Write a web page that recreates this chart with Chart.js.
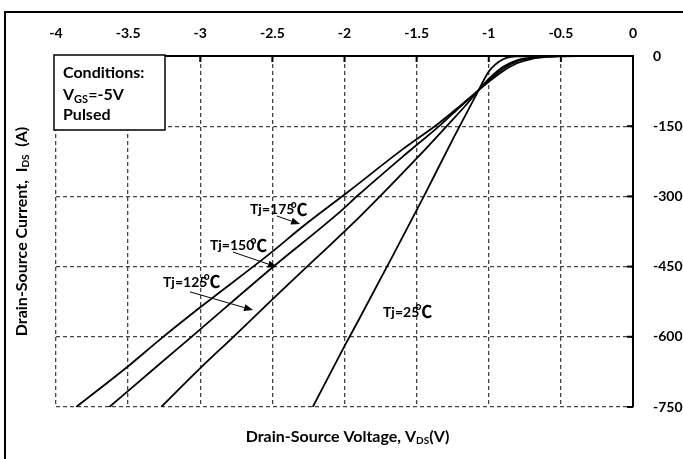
<!DOCTYPE html>
<html><head><meta charset="utf-8">
<script src="https://cdn.jsdelivr.net/npm/chart.js@4"></script>
<style>html,body{margin:0;padding:0;background:#fff;}canvas{display:block}</style>
</head><body>
<canvas id="c" width="683" height="459"></canvas>
<script>
// ---- tick labels ----
const xTickValues = [-4, -3.5, -3, -2.5, -2, -1.5, -1, -0.5, 0];
const xTickLabels = ['-4', '-3.5', '-3', '-2.5', '-2', '-1.5', '-1', '-0.5', '0'];
const yTickValues = [0, -150, -300, -450, -600, -750];
const yTickLabels = ['0', '-150', '-300', '-450', '-600', '-750'];

// ---- series (V_DS in V, I_DS in A) ----
const v25  = [-2.22, -2.0, -1.9, -1.7, -1.45, -1.246, -1.07, -1.0, -0.95, -0.9, -0.85, -0.8, -0.7, -0.5, -0.3];
const i25  = [-750, -620, -563, -447, -300, -176, -73, -33, -17, -7, -2, -0.5, 0, 0, 0];

const v125 = [-3.27, -3.0, -2.77, -2.5, -2.3, -1.89, -1.7, -1.5, -1.28, -1.15, -1.07, -1.0, -0.9, -0.8, -0.7, -0.6, -0.5, -0.3];
const i125 = [-750, -667, -600, -520, -462, -342, -283, -219, -146, -102, -73, -49, -23, -9, -3, -0.8, 0, 0];

const v150 = [-3.63, -3.3, -3.0, -2.5, -2.05, -1.9, -1.6, -1.33, -1.2, -1.07, -1.0, -0.9, -0.8, -0.7, -0.6, -0.5, -0.4, -0.2];
const i150 = [-750, -663, -584, -452, -338, -296, -216, -146, -109, -73, -52, -27, -11, -4, -1.2, -0.3, 0, 0];

const v175 = [-3.86, -3.5, -3.28, -3.0, -2.5, -2.3, -1.97, -1.6, -1.36, -1.2, -1.07, -1.0, -0.9, -0.8, -0.7, -0.6, -0.5, -0.35, -0.2];
const i175 = [-750, -663, -606, -537, -418, -367, -289, -200, -147, -107, -73, -55, -32, -15, -6, -2, -0.6, -0.1, 0];

const seriesNames = ['Tj=25℃', 'Tj=125℃', 'Tj=150℃', 'Tj=175℃'];

const FONT = 'Lato, "Open Sans", sans-serif';
const zip = (xs, ys) => xs.map((x, k) => ({x, y: ys[k]}));
const mk = (label, xs, ys) => ({
  label, data: zip(xs, ys), showLine: true, borderColor: '#000', borderWidth: 1.8,
  pointRadius: 0, fill: false, cubicInterpolationMode: 'monotone'
});

// annotation labels (text, position in data units, arrow from/to in data units)
const notes = [
  {t: 'Tj=175', at: [-2.655, -329], arrow: [[-2.468, -342], [-2.308, -359]]},
  {t: 'Tj=150', at: [-2.933, -404], arrow: [[-2.773, -419], [-2.468, -451]]},
  {t: 'Tj=125', at: [-3.258, -483], arrow: [[-3.071, -504], [-2.634, -543]]},
  {t: 'Tj=25',  at: [-1.733, -547], arrow: null}
];

function drawParts(ctx, parts, x, y, align) {
  let w = 0;
  parts.forEach(p => { ctx.font = p.font; p.w = ctx.measureText(p.t).width; w += p.w + (p.dx || 0); });
  let cx = align === 'center' ? x - w / 2 : x;
  parts.forEach(p => {
    ctx.font = p.font;
    ctx.fillText(p.t, cx + (p.dx || 0), y + (p.dy || 0));
    cx += p.w + (p.dx || 0);
  });
}

function arrow(ctx, x1, y1, x2, y2) {
  ctx.save();
  ctx.strokeStyle = '#000'; ctx.fillStyle = '#000'; ctx.lineWidth = 1;
  const a = Math.atan2(y2 - y1, x2 - x1), L = 9, W = 3.5;
  const bx = x2 - L * Math.cos(a), by = y2 - L * Math.sin(a);
  ctx.beginPath(); ctx.moveTo(x1, y1); ctx.lineTo(bx, by); ctx.stroke();
  ctx.beginPath();
  ctx.moveTo(x2, y2);
  ctx.lineTo(bx + W * Math.sin(a), by - W * Math.cos(a));
  ctx.lineTo(bx - W * Math.sin(a), by + W * Math.cos(a));
  ctx.closePath(); ctx.fill();
  ctx.restore();
}

const decor = {
  id: 'decor',
  afterDatasetsDraw(chart) {
    const {ctx, chartArea: ca, scales: {x, y}} = chart;
    ctx.save();
    // inward tick marks
    ctx.strokeStyle = '#000'; ctx.lineWidth = 2;
    xTickValues.forEach(v => {
      const px = x.getPixelForValue(v);
      ctx.beginPath(); ctx.moveTo(px, ca.top); ctx.lineTo(px, ca.top + 6); ctx.stroke();
    });
    yTickValues.forEach(v => {
      const py = y.getPixelForValue(v);
      ctx.beginPath(); ctx.moveTo(ca.right, py); ctx.lineTo(ca.right - 6, py); ctx.stroke();
    });
    // conditions box
    const bx = ca.left - 2, by = ca.top - 1, bw = 111, bh = 75;
    ctx.fillStyle = '#fff'; ctx.fillRect(bx, by, bw, bh);
    ctx.lineWidth = 1.5; ctx.strokeStyle = '#000'; ctx.strokeRect(bx, by, bw, bh);
    ctx.fillStyle = '#000'; ctx.textBaseline = 'middle';
    const f = 'bold 16px ' + FONT, fs = 'bold 11px ' + FONT;
    drawParts(ctx, [{t: 'Conditions:', font: f}], bx + 9, by + 18, 'left');
    drawParts(ctx, [{t: 'V', font: f}, {t: 'GS', font: fs, dy: 4}, {t: '=-5V', font: f}], bx + 9, by + 40, 'left');
    drawParts(ctx, [{t: 'Pulsed', font: f}], bx + 9, by + 60, 'left');
    ctx.restore();
  },
  afterDraw(chart) {
    const {ctx, chartArea: ca, scales: {x, y}} = chart;
    ctx.save();
    // outer frame (top and left edges visible)
    ctx.strokeStyle = '#000'; ctx.lineWidth = 2;
    ctx.beginPath(); ctx.moveTo(5, 470); ctx.lineTo(5, 12); ctx.lineTo(700, 12); ctx.stroke();
    // annotations
    ctx.fillStyle = '#000'; ctx.textBaseline = 'middle';
    notes.forEach(n => {
      const px = x.getPixelForValue(n.at[0]), py = y.getPixelForValue(n.at[1]);
      drawParts(ctx, [{t: n.t, font: 'bold 14px ' + FONT},
                      {t: '℃', font: 'bold 17px "Noto Sans CJK SC", ' + FONT, dx: -4, dy: 0}], px, py, 'left');
      if (n.arrow) {
        arrow(ctx, x.getPixelForValue(n.arrow[0][0]), y.getPixelForValue(n.arrow[0][1]),
                   x.getPixelForValue(n.arrow[1][0]), y.getPixelForValue(n.arrow[1][1]));
      }
    });
    // axis titles
    const tf = 'bold 16px ' + FONT, ts = 'bold 10px ' + FONT;
    drawParts(ctx, [{t: 'Drain-Source Voltage, V', font: tf}, {t: 'DS', font: ts, dy: 4}, {t: '(V)', font: tf}],
              (ca.left + ca.right) / 2 + 3, 437, 'center');
    ctx.translate(22, (ca.top + ca.bottom) / 2);
    ctx.rotate(-Math.PI / 2);
    drawParts(ctx, [{t: 'Drain-Source Current,  I', font: tf}, {t: 'DS', font: ts, dy: 4}, {t: '  (A)', font: tf}],
              0, 0, 'center');
    ctx.restore();
  }
};

const gridOpts = {color: '#444', lineWidth: 1.3, drawTicks: false};
new Chart(document.getElementById('c').getContext('2d'), {
  type: 'scatter',
  data: {datasets: [mk(seriesNames[0], v25, i25), mk(seriesNames[1], v125, i125),
                    mk(seriesNames[2], v150, i150), mk(seriesNames[3], v175, i175)]},
  options: {
    responsive: false, animation: false, devicePixelRatio: 1,
    layout: {padding: {left: 56, bottom: 52, top: 0, right: 0}},
    plugins: {legend: {display: false}, tooltip: {enabled: false}},
    scales: {
      x: {
        type: 'linear', position: 'top', min: -4, max: 0,
        afterBuildTicks: s => { s.ticks = xTickValues.map(v => ({value: v})); },
        afterFit: s => { s.height = 56; },
        ticks: {autoSkip: false, maxRotation: 0, padding: 14, color: '#000',
                font: {family: FONT, size: 14, weight: 'bold'},
                callback: (v) => xTickLabels[xTickValues.indexOf(v)]},
        grid: gridOpts,
        border: {display: true, color: '#000', width: 2, dash: [4, 3]}
      },
      y: {
        type: 'linear', position: 'right', min: -750, max: 0,
        afterBuildTicks: s => { s.ticks = yTickValues.map(v => ({value: v})); },
        afterFit: s => { s.width = 50; },
        ticks: {autoSkip: false, padding: 20, color: '#000',
                font: {family: FONT, size: 14, weight: 'bold'},
                callback: (v) => yTickLabels[yTickValues.indexOf(v)]},
        grid: gridOpts,
        border: {display: true, color: '#000', width: 2, dash: [4, 3]}
      }
    }
  },
  plugins: [decor]
});
</script>
</body></html>
